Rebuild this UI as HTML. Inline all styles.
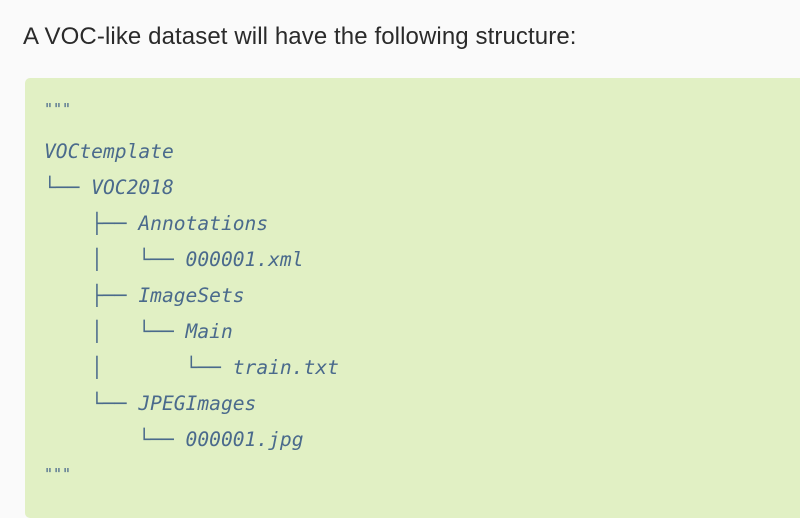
<!DOCTYPE html>
<html><head><meta charset="utf-8"><style>
body{margin:0;width:800px;height:503px;background:#fafafa;overflow:hidden;position:relative}
.t{position:absolute;left:23px;top:23px;font:24px "Liberation Sans",sans-serif;letter-spacing:0.1px;color:#2a2a2a;white-space:nowrap}
.box{position:absolute;left:25px;top:78px;width:790px;height:440px;background:#e1f0c4;border-radius:5px}
.l{position:absolute;left:44px;font:italic 19.6px "DejaVu Sans Mono",monospace;color:#4a6a8c;white-space:pre;line-height:24px}
</style></head><body>
<div class="t">A VOC-like dataset will have the following structure:</div>
<div class="box"></div>
<div class="l" style="top:97px;font-size:15px">"""</div>
<div class="l" style="top:140px">VOCtemplate</div>
<div class="l" style="top:176px">└── VOC2018</div>
<div class="l" style="top:212px">    ├── Annotations</div>
<div class="l" style="top:248px">    │   └── 000001.xml</div>
<div class="l" style="top:284px">    ├── ImageSets</div>
<div class="l" style="top:320px">    │   └── Main</div>
<div class="l" style="top:356px">    │       └── train.txt</div>
<div class="l" style="top:392px">    └── JPEGImages</div>
<div class="l" style="top:428px">        └── 000001.jpg</div>
<div class="l" style="top:462px;font-size:15px">"""</div>
</body></html>
